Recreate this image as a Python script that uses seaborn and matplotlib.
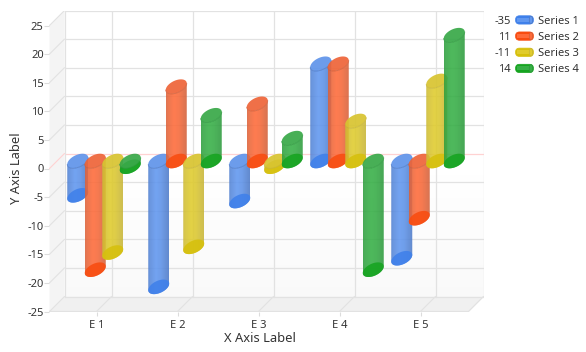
import numpy as np
import pandas as pd
import matplotlib
matplotlib.use("Agg")
import matplotlib.pyplot as plt
import seaborn as sns
from matplotlib.colors import to_rgb
from matplotlib.path import Path
from matplotlib.patches import Polygon, Patch, FancyBboxPatch, Ellipse, Rectangle
from matplotlib.legend_handler import HandlerBase

categories = ["E 1", "E 2", "E 3", "E 4", "E 5"]
series_names = ["Series 1", "Series 2", "Series 3", "Series 4"]
series_1 = [-6, -22, -7, 17, -17]
series_2 = [-19, 13, 10, 17, -10]
series_3 = [-16, -15, -1, 7, 14]
series_4 = [-1, 8, 4, -19, 22]
y_ticks = [-25, -20, -15, -10, -5, 0, 5, 10, 15, 20, 25]
x_label = "X Axis Label"
y_label = "Y Axis Label"

highlight = ["#6097f0", "#ff6a38", "#e0cc2c", "#36b046"]
shade = ["#4c78c4", "#cf5f3a", "#c6b43a", "#2d983d"]
bottom = ["#3f80ea", "#f84c10", "#d6c00c", "#16a420"]
cap = ["#5f94ea", "#ee6438", "#d8c430", "#38a848"]

W, H = 586, 352
PX_X = 81.0          # pixels per category
PX_Y = 5.72          # pixels per value unit
LEFT, RIGHT, TOP, BOT = 49.5, 483.5, 10.5, 311.5
X0_PX, Y0_PX = 96.5, 168.5
R_W, R_H, PHI = 10.5, 7.3, np.radians(27)  # cylinder ellipse, pixels

sns.set_theme(style="white")
plt.rcParams["font.family"] = ["Noto Sans", "DejaVu Sans"]
plt.rcParams["axes.unicode_minus"] = False
fig = plt.figure(figsize=(W / 100, H / 100), dpi=100, facecolor="white")
ax = fig.add_axes([LEFT / W, 1 - BOT / H, (RIGHT - LEFT) / W, (BOT - TOP) / H])
xmin, xmax = (LEFT - X0_PX) / PX_X, (RIGHT - X0_PX) / PX_X
ymin, ymax = (Y0_PX - BOT) / PX_Y, (Y0_PX - TOP) / PX_Y

df = pd.DataFrame({
    "category": categories * 4,
    "series": np.repeat(series_names, len(categories)),
    "value": series_1 + series_2 + series_3 + series_4,
})
sns.barplot(data=df, x="category", y="value", hue="series", order=categories,
            hue_order=series_names, palette=highlight, width=0.864, gap=0,
            dodge=True, legend=False, ax=ax, errorbar=None, estimator="sum")

ax.set_xlim(xmin, xmax)
ax.set_ylim(ymin, ymax)
ax.set_autoscale_on(False)
for s in ax.spines.values():
    s.set_visible(False)

DXF, DYF = 15 / PX_X, 15 / PX_Y
WALL_GRID = "#e2e2e2"
front_r = xmax - DXF
back_b = ymin + DYF

# walls
ax.add_patch(Polygon([(xmin, ymin), (xmin + DXF, back_b), (xmin + DXF, ymax), (xmin, ymax - DYF)],
                     fc="#f4f4f4", ec="none", zorder=0.1))
ax.add_patch(Polygon([(xmin, ymin), (front_r, ymin), (xmax, back_b), (xmin + DXF, back_b)],
                     fc="#f0f0f0", ec="none", zorder=0.1))
wall_grad = np.interp(np.linspace(0, 1, 64), [0, 0.55, 1], [1, 0.998, 0.975])[:, None]
ax.imshow(wall_grad, extent=[xmin + DXF, xmax, back_b, ymax], origin="upper", aspect="auto",
          cmap="gray", vmin=0, vmax=1, zorder=0.1)
ax.set_xlim(xmin, xmax)
ax.set_ylim(ymin, ymax)

for v in y_ticks:
    c = "#ffd2d2" if v == 0 else WALL_GRID
    if v != y_ticks[-1]:
        ax.plot([xmin + DXF, xmax], [v + DYF, v + DYF], color=c, lw=0.9, zorder=0.5)
    ax.plot([xmin, xmin + DXF], [v, v + DYF], color=c, lw=0.8, zorder=0.5)
ax.plot([xmin + DXF, xmax], [ymax, ymax], color=WALL_GRID, lw=0.9, zorder=0.5)
for i in range(len(categories)):
    ax.plot([i + DXF, i + DXF], [back_b, ymax], color=WALL_GRID, lw=0.9, zorder=0.5)
    ax.plot([i, i + DXF], [ymin, back_b], color=WALL_GRID, lw=0.8, zorder=0.5)
ax.plot([xmin + DXF, xmin + DXF], [back_b, ymax], color=WALL_GRID, lw=0.9, zorder=0.5)
ax.plot([xmax, xmax], [back_b, ymax], color=WALL_GRID, lw=0.9, zorder=0.5)
ax.plot([xmin, front_r, xmax], [ymin, ymin, back_b], color=WALL_GRID, lw=0.9, zorder=0.5)


def ellipse_xy(cx, cy, t):
    return cx + R_W * np.cos(t) / PX_X, cy + R_H * np.sin(t + PHI) / PX_Y


R_X = R_W / PX_X
stops = [0, 0.08, 0.38, 0.62, 1]


def gradient(i, alpha=0.88):
    hi, sh = np.array(to_rgb(highlight[i])), np.array(to_rgb(shade[i]))
    mix = np.interp(np.linspace(0, 1, 128), stops, [0.8, 0.5, 0, 0.2, 0.95])[:, None]
    rgb = hi * (1 - mix) + sh * mix
    return np.dstack([rgb[None, :, :], np.full((1, 128, 1), alpha)])


for i, container in enumerate(ax.containers):
    for bar in container:
        val = bar.get_y() + bar.get_height() if bar.get_y() == 0 else bar.get_y()
        xc = bar.get_x() + bar.get_width() / 2 + 7.5 / PX_X
        y0 = 7.5 / PX_Y
        y_hi, y_lo = max(val, 0) + y0, min(val, 0) + y0
        bar.set_visible(False)
        z = 2 + i

        front = np.linspace(0, -np.pi, 60)
        lx, ly = ellipse_xy(xc, y_lo, front)
        ux, uy = ellipse_xy(xc, y_hi, front[::-1])
        verts = np.column_stack([np.r_[lx, ux], np.r_[ly, uy]])
        path = Path(np.vstack([verts, verts[0]]), closed=True)
        im = ax.imshow(gradient(i), extent=[xc - R_X, xc + R_X, y_lo - 2, y_hi + 2],
                       aspect="auto", interpolation="bilinear", zorder=z)
        im.set_clip_path(path, transform=ax.transData)

        full = np.linspace(0, 2 * np.pi, 90)
        ex, ey = ellipse_xy(xc, y_lo, full)
        ax.add_patch(Polygon(np.column_stack([ex, ey]), fc=bottom[i], ec="none", alpha=0.88, zorder=z + 0.1))
        ex, ey = ellipse_xy(xc, y_hi, full)
        ax.add_patch(Polygon(np.column_stack([ex, ey]), fc=cap[i], ec="none", alpha=0.92, zorder=z + 0.2))
        ax.plot(*ellipse_xy(xc, y_hi, front), color=shade[i], lw=0.6, alpha=0.8, zorder=z + 0.3)

ax.set_xlim(xmin, xmax)
ax.set_ylim(ymin, ymax)
ax.set_aspect("auto")

ax.set_xticks(range(len(categories)))
ax.set_xticklabels(categories)
ax.set_yticks(y_ticks)
ax.tick_params(axis="both", color="#dcdcdc", labelcolor="#333333", width=0.8,
               labelsize=8, left=True, bottom=True)
ax.tick_params(axis="x", length=3, pad=3.2)
ax.tick_params(axis="y", length=3.6, pad=0.6)
ax.set_xlabel("")
ax.set_ylabel("")
fig.text(259.5 / W, 1 - 339 / H, x_label, ha="center", va="center", fontsize=9.3, color="#333333")
fig.text(16 / W, 1 - 168 / H, y_label, ha="center", va="center", rotation=90, fontsize=9.3, color="#333333")


class CylinderHandler(HandlerBase):
    def create_artists(self, legend, orig, xd, yd, width, height, fontsize, trans):
        i = series_names.index(orig.get_label())
        y = -yd
        body = FancyBboxPatch((-xd + 0.4, y + 0.2), width - 0.8, height - 0.4,
                              boxstyle="round,pad=0,rounding_size=2.8", mutation_aspect=1,
                              fc=bottom[i], ec=bottom[i], lw=0.5, transform=trans)
        stripe = Rectangle((-xd + 1.2, y + height * 0.3), width - 3.2, height * 0.42,
                           fc=highlight[i], ec="none", transform=trans)
        end = Ellipse((-xd + width - 2.2, y + height / 2), 2.4, height - 1,
                      fc=highlight[i], ec=shade[i], lw=0.5, transform=trans)
        return [body, stripe, end]


handles = [Patch(facecolor=highlight[i], label=n) for i, n in enumerate(series_names)]
leg = ax.legend(handles=handles, handler_map={Patch: CylinderHandler()}, frameon=False,
                loc="upper left", bbox_to_anchor=(515 / W, 1 - 15.5 / H),
                bbox_transform=fig.transFigure, borderaxespad=0, borderpad=0, fontsize=8,
                handlelength=1.71, handleheight=0.85, handletextpad=0.36, labelspacing=0.44,
                labelcolor="#333333")

totals = [sum(s) for s in (series_1, series_2, series_3, series_4)]
for k, tot in enumerate(totals):
    fig.text(510.5 / W, 1 - (21 + 16 * k) / H, str(tot), ha="right", va="center",
             fontsize=8, color="#333333")

fig.savefig("out.png", dpi=100)
